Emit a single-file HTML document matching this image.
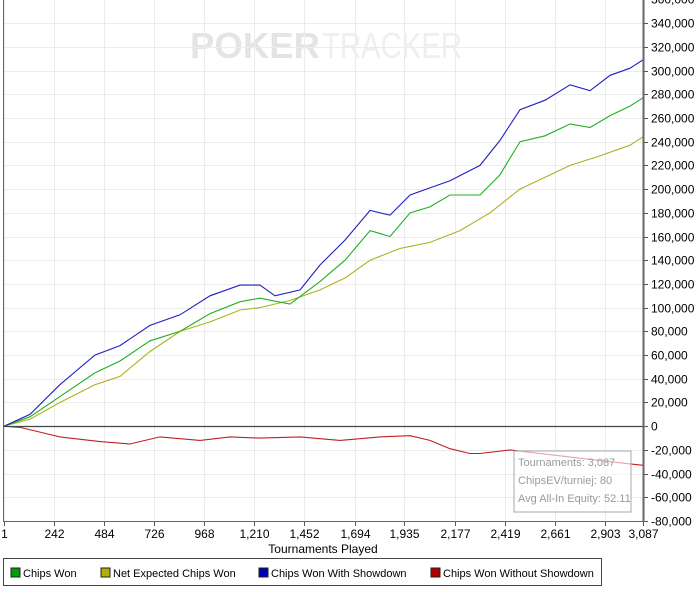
<!DOCTYPE html>
<html><head><meta charset="utf-8"><style>
html,body{margin:0;padding:0;background:#fff;width:700px;height:597px;overflow:hidden;font-family:"Liberation Sans",sans-serif}
svg{position:absolute;left:0;top:0}
</style></head><body>
<svg id="c" width="700" height="597" font-family="Liberation Sans, sans-serif">
<g>
<text x="190" y="58" font-size="36" font-weight="bold" fill="#e4e4e4" textLength="130" lengthAdjust="spacingAndGlyphs">POKER</text>
<text x="322" y="58" font-size="36" fill="#efefef" textLength="140" lengthAdjust="spacingAndGlyphs">TRACKER</text>
</g>
<g id="grid"></g>
<g id="series"></g>
<g id="axes"></g>
<g>
<rect x="514" y="451" width="117" height="61" fill="rgba(255,255,255,0.6)" stroke="#a8a8a8"/>
<text x="518" y="466" font-size="11" fill="#9a9a9a">Tournaments: 3,087</text>
<text x="518" y="484" font-size="11" fill="#9a9a9a">ChipsEV/turniej: 80</text>
<text x="518" y="502" font-size="11" fill="#9a9a9a">Avg All-In Equity: 52.11</text>
</g>
<text x="323" y="553" font-size="12" text-anchor="middle" fill="#000">Tournaments Played</text>
<g>
<rect x="3.5" y="558.5" width="598" height="27" fill="#fff" stroke="#444"/>
<g><rect x="11" y="568" width="9" height="9" fill="#00a000" stroke="#222"/><text x="23" y="577" font-size="11">Chips Won</text></g>
<g><rect x="101" y="568" width="9" height="9" fill="#b0b000" stroke="#222"/><text x="113" y="577" font-size="11">Net Expected Chips Won</text></g>
<g><rect x="259" y="568" width="9" height="9" fill="#0000b0" stroke="#222"/><text x="271" y="577" font-size="11">Chips Won With Showdown</text></g>
<g><rect x="431" y="568" width="9" height="9" fill="#b00000" stroke="#222"/><text x="443" y="577" font-size="11">Chips Won Without Showdown</text></g>
</g>
</svg>
<script>
const xTicks=[1,242,484,726,968,1210,1452,1694,1935,2177,2419,2661,2903,3087];
const yTicks=[-80000,-60000,-40000,-20000,0,20000,40000,60000,80000,100000,120000,140000,160000,180000,200000,220000,240000,260000,280000,300000,320000,340000,360000];
const tBlue=[1,127,271,440,561,706,851,996,1141,1237,1310,1431,1527,1648,1769,1865,1962,2058,2155,2300,2396,2493,2614,2735,2831,2928,3024,3087];
const vBlue=[0,10000,35000,60000,68000,85000,94000,110000,119000,119000,110000,115000,136000,157000,182000,178000,195000,201000,207000,220000,241000,267000,275000,288000,283000,296000,302000,309000];
const tGreen=[1,127,271,440,561,706,851,996,1141,1237,1382,1527,1648,1769,1865,1962,2058,2155,2300,2396,2493,2614,2735,2831,2928,3024,3087];
const vGreen=[0,8000,25000,45000,55000,72000,80000,95000,105000,108000,103000,122000,140000,165000,160000,180000,185000,195000,195000,212000,240000,245000,255000,252000,262000,270000,277000];
const tEV=[1,127,271,440,561,706,851,996,1141,1237,1382,1527,1648,1769,1914,2058,2203,2348,2493,2614,2735,2879,3024,3087];
const vEV=[0,6000,20000,35000,42000,63000,80000,88000,98000,100000,106000,115000,125000,140000,150000,155000,165000,180000,200000,210000,220000,228000,237000,244000];
const tRed=[1,79,175,271,464,609,754,948,1093,1237,1431,1624,1817,1962,2058,2155,2251,2300,2445,2541,2686,2879,3087];
const vRed=[0,-1000,-5000,-9000,-13000,-15000,-9000,-12000,-9000,-10000,-9000,-12000,-9000,-8000,-12000,-19000,-23000,-23000,-20000,-22000,-25000,-29000,-33000];
const X=t=>4+(t-1)*639/3086;
const Y=v=>426.2-v*23.71/20000;
const NS='http://www.w3.org/2000/svg';
function mk(tag,at,parent){const e=document.createElementNS(NS,tag);for(const k in at)e.setAttribute(k,at[k]);parent.appendChild(e);return e;}
const grid=document.getElementById('grid'),axes=document.getElementById('axes'),ser=document.getElementById('series');
yTicks.forEach(v=>{
 const y=Math.round(Y(v))+0.5;
 if(v!==0){const l=mk('line',{x1:4,x2:643,y1:y,y2:y,stroke:'#ececec'},grid);
 
 }
 mk('line',{x1:643,x2:648,y1:y,y2:y,stroke:'#555'},axes);
 const t=mk('text',{x:651,y:y+4,'font-size':12,fill:'#000'},axes);t.textContent=v.toLocaleString('en-US');
 
 
});
xTicks.forEach(v=>{
 const x=Math.round(X(v))+0.5;
 const l=mk('line',{x1:x,x2:x,y1:0,y2:521,stroke:'#ececec'},grid);
 
 
 mk('line',{x1:x,x2:x,y1:521,y2:526,stroke:'#555'},axes);
 const t=mk('text',{x:x,y:538,'font-size':12,'text-anchor':'middle',fill:'#000'},axes);t.textContent=v.toLocaleString('en-US');
 
 
});
mk('line',{x1:4,x2:643,y1:Math.round(Y(0))+0.5,y2:Math.round(Y(0))+0.5,stroke:'#444','stroke-width':1.2},axes);
mk('line',{x1:643.5,x2:643.5,y1:0,y2:521,stroke:'#666','stroke-width':2},axes);
mk('line',{x1:3.5,x2:3.5,y1:0,y2:521,stroke:'#666'},axes);
mk('line',{x1:3,x2:644,y1:521.5,y2:521.5,stroke:'#666'},axes);
function line(ts,vs,col,name){
 const d=ts.map((t,i)=>(i?'L':'M')+X(t).toFixed(1)+','+Y(vs[i]).toFixed(1)).join('');
 const p=mk('path',{d:d,fill:'none',stroke:col,'stroke-width':1.1},ser);
 
 
}
line(tRed,vRed,'#c02020','line-without-showdown');
line(tEV,vEV,'#b0b020','line-net-expected');
line(tGreen,vGreen,'#20b020','line-chips-won');
line(tBlue,vBlue,'#2020c0','line-with-showdown');
</script>
</body></html>
